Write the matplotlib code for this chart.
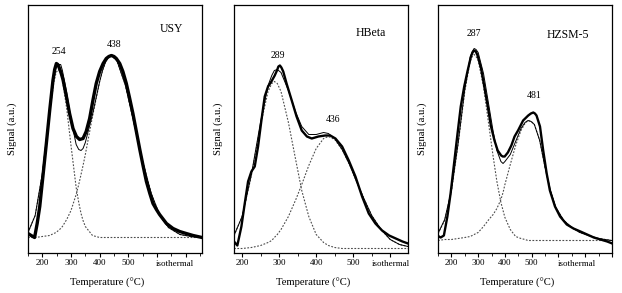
import matplotlib
matplotlib.use("Agg")
import matplotlib.pyplot as plt
from matplotlib.ticker import MultipleLocator, FixedLocator

plt.rcParams['font.family'] = ['Liberation Serif', 'DejaVu Serif']

# ---- USY ----
usy_exp_t = [150, 161, 173, 182, 191, 202, 214, 226, 237, 243, 249, 254, 260, 266,
             272, 284, 295, 307, 319, 330, 342, 353, 365, 377, 388, 400, 412, 423,
             432, 441, 450, 458, 470, 481, 493, 504, 516, 528, 540, 552, 563, 575,
             586, 598, 609, 633, 656, 679, 702, 726, 757]
usy_exp = [19, 17, 15, 29, 46, 76, 109, 143, 172, 183, 189, 188, 184, 179,
           173, 156, 139, 124, 116, 113, 114, 121, 134, 153, 169, 181, 189, 194,
           196, 197, 196, 194, 189, 181, 169, 155, 139, 121, 103, 86, 71, 59,
           49, 43, 38, 29, 24, 21, 19, 17, 15]
usy_t = [150, 175, 200, 225, 240, 248, 256, 264, 270, 285, 300, 318, 327, 335,
         342, 350, 375, 400, 410, 420, 430, 440, 460, 490, 520, 550, 580, 610,
         640, 680, 720, 757]
usy_fit = [20, 37, 79, 141, 174, 185, 188, 188, 182, 160, 133, 108, 103, 102,
           104, 110, 138, 171, 182, 190, 195, 197, 192, 167, 129, 91, 59, 37,
           25, 18, 16, 15]
usy_p1 = [20, 37, 78, 139, 170, 180, 183, 180, 173, 144, 107, 65, 50, 39,
          32, 26, 17, 15, 15, 15, 15, 15, 15, 15, 15, 15, 15, 15,
          15, 15, 15, 15]
usy_p2 = [15, 15, 16, 17, 19, 20, 22, 24, 26, 33, 42, 58, 68, 78,
          87, 98, 136, 171, 182, 190, 195, 197, 192, 167, 129, 91, 59, 37,
          25, 18, 16, 15]

# ---- HBeta ----
hb_exp_t = [178, 187, 198, 207, 216, 225, 234, 243, 252, 261, 270, 279, 288, 294,
            298, 302, 306, 311, 320, 334, 347, 361, 375, 388, 406, 424, 438, 452,
            470, 488, 506, 524, 542, 560, 578, 597, 615, 633, 648]
hb_exp = [11, 7, 26, 49, 71, 81, 86, 106, 132, 156, 166, 171, 177, 182,
          186, 187, 185, 181, 169, 152, 136, 122, 116, 114, 116, 117, 117, 114,
          106, 92, 76, 56, 39, 29, 22, 17, 14, 11, 9]
hb_t = [178, 200, 225, 250, 270, 280, 287, 295, 305, 325, 345, 361, 380, 400,
        420, 433, 450, 470, 490, 510, 530, 550, 575, 600, 625, 648]
hb_fit = [17, 36, 78, 131, 167, 177, 182, 183, 180, 162, 140, 126, 118, 118,
          120, 119, 114, 103, 88, 70, 53, 37, 23, 13, 8, 6]
hb_p1 = [17, 36, 77, 128, 161, 169, 171, 169, 161, 130, 92, 62, 36, 18,
         10, 7, 5, 4, 4, 4, 4, 4, 4, 4, 4, 4]
hb_p2 = [4, 4, 5, 7, 10, 12, 15, 18, 23, 36, 53, 68, 87, 104,
         114, 116, 113, 103, 88, 70, 53, 37, 23, 13, 8, 6]

# ---- HZSM-5 ----
hz_exp_t = [147, 160, 172, 185, 197, 210, 223, 235, 248, 260, 273, 279, 285, 291,
            298, 311, 323, 336, 348, 361, 373, 386, 392, 399, 411, 424, 436, 449,
            468, 487, 497, 506, 512, 518, 531, 543, 556, 568, 587, 606, 631, 656,
            682, 707, 732, 757, 782, 801]
hz_exp = [17, 15, 17, 36, 59, 89, 119, 146, 166, 181, 196, 200, 202, 201,
          197, 184, 166, 146, 126, 112, 102, 97, 96, 96, 100, 107, 116, 122,
          132, 137, 139, 140, 139, 137, 126, 102, 79, 62, 46, 36, 28, 24,
          21, 18, 15, 13, 11, 9]
hz_t = [150, 175, 200, 225, 250, 270, 278, 285, 292, 300, 320, 340, 356, 370,
        385, 393, 400, 420, 440, 460, 475, 486, 498, 510, 530, 550, 570, 590,
        620, 650, 680, 712, 750, 799]
hz_fit = [19, 33, 62, 109, 163, 195, 201, 204, 203, 200, 179, 147, 121, 102,
          91, 89, 91, 98, 111, 124, 130, 132, 131, 128, 112, 85, 62, 45,
          32, 25, 20, 17, 14, 12]
hz_p1 = [19, 32, 61, 108, 161, 191, 196, 198, 196, 192, 166, 127, 96, 71,
         50, 42, 35, 23, 16, 14, 13, 12, 12, 12, 12, 12, 12, 12,
         12, 12, 12, 12, 12, 12]
hz_p2 = [12, 13, 13, 14, 15, 16, 17, 18, 19, 20, 26, 33, 38, 44,
         53, 60, 68, 88, 107, 122, 129, 132, 131, 128, 112, 85, 62, 45,
         32, 25, 20, 17, 14, 12]

panels = [
    dict(name="USY", xlim=(150, 757), exp_t=usy_exp_t, exp=usy_exp, t=usy_t,
         fit=usy_fit, p1=usy_p1, p2=usy_p2, lw=2.4,
         labels=[("254", 259, 201), ("438", 451, 208)], name_xy=(651, 223),
         iso_x=0.845, left=28),
    dict(name="HBeta", xlim=(178, 648), exp_t=hb_exp_t, exp=hb_exp, t=hb_t,
         fit=hb_fit, p1=hb_p1, p2=hb_p2, lw=1.7,
         labels=[("289", 297, 197), ("436", 445, 133)], name_xy=(548, 219),
         iso_x=0.902, left=234),
    dict(name="HZSM-5", xlim=(150, 800), exp_t=hz_exp_t, exp=hz_exp, t=hz_t,
         fit=hz_fit, p1=hz_p1, p2=hz_p2, lw=1.7,
         labels=[("287", 285, 219), ("481", 510, 157)], name_xy=(634, 217),
         iso_x=0.80, left=438),
]

W, H = 622, 293
fig = plt.figure(figsize=(W / 100, H / 100), dpi=100)

for p in panels:
    ax = fig.add_axes([p["left"] / W, (H - 252.5) / H, 174 / W, 247.5 / H])
    ax.plot(p["t"], p["p1"], color="#4d4d4d", lw=0.8, dashes=(1.6, 1.4))
    ax.plot(p["t"], p["p2"], color="#4d4d4d", lw=0.8, dashes=(1.6, 1.4))
    ax.plot(p["exp_t"], p["exp"], color="black", lw=p["lw"])
    ax.plot(p["t"], p["fit"], color="black", lw=0.7)
    ax.set_xlim(*p["xlim"])
    ax.set_ylim(0, 247.5)
    ax.set_yticks([])
    majors = list(range(200, int(p["xlim"][1]) + 1, 100))
    ax.xaxis.set_major_locator(FixedLocator(majors))
    ax.xaxis.set_minor_locator(MultipleLocator(50))
    ax.set_xticklabels([str(m) if m <= 500 else "" for m in majors])
    ax.tick_params(axis="x", which="major", direction="out", length=3,
                   width=0.8, labelsize=6.5, pad=2)
    ax.tick_params(axis="x", which="minor", direction="out", length=2, width=0.6)
    ax.tick_params(axis="y", left=False)
    for s in ax.spines.values():
        s.set_linewidth(0.9)
    ax.text(p["iso_x"], -0.046, "isothermal", transform=ax.transAxes,
            ha="center", va="center", fontsize=6.5)
    for txt, x, y in p["labels"]:
        ax.text(x, y, txt, ha="center", va="center", fontsize=7)
    ax.text(p["name_xy"][0], p["name_xy"][1], p["name"], ha="center",
            va="center", fontsize=8.5)
    ax.set_xlabel("Temperature (\u00b0C)", fontsize=7.7)
    ax.xaxis.set_label_coords(0.455, -0.105)
    ax.set_ylabel("Signal (a.u.)", fontsize=7.7)
    ax.yaxis.set_label_coords(-0.065, 0.5)

fig.savefig("out.png", dpi=100)
